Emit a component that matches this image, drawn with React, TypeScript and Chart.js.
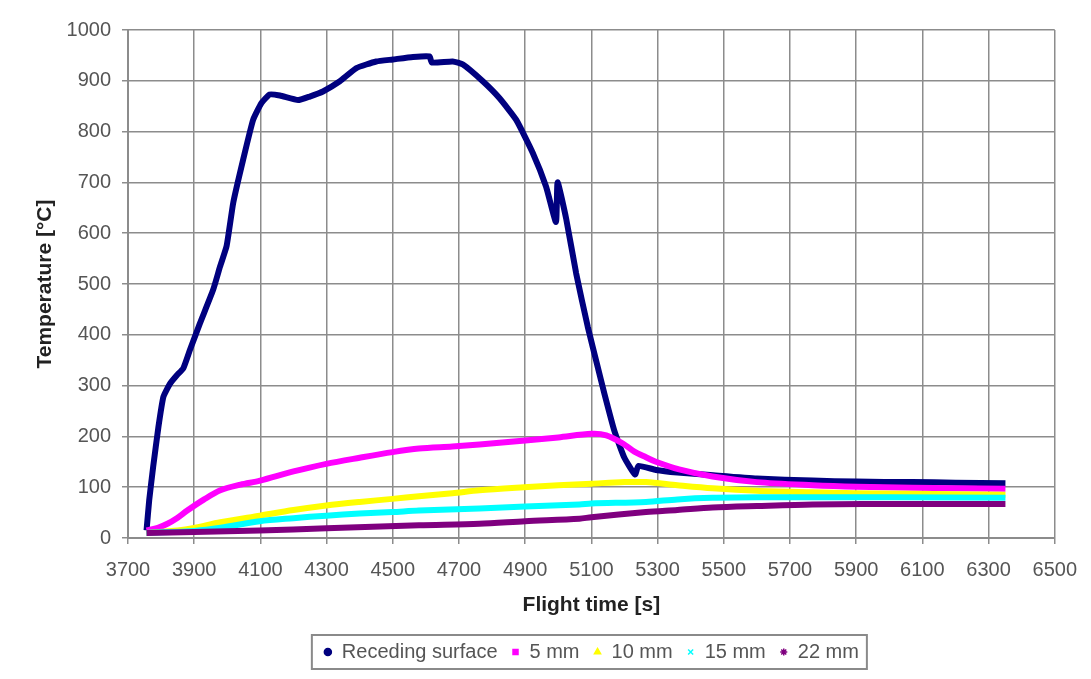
import React, { useEffect, useRef } from 'react';
import { Chart, registerables } from 'chart.js';

Chart.register(...registerables);

// Axis tick values
const xTickValues = [3700, 3900, 4100, 4300, 4500, 4700, 4900, 5100, 5300, 5500, 5700, 5900, 6100, 6300, 6500];
const yTickValues = [0, 100, 200, 300, 400, 500, 600, 700, 800, 900, 1000];

// Series names / colours / legend markers
const seriesNames = ['Receding surface', '5 mm', '10 mm', '15 mm', '22 mm'];
const seriesColors = ['#00007f', '#ff00ff', '#ffff00', '#00ffff', '#7f007f'];
const legendMarkers = ['circle', 'rect', 'triangle', 'crossRot', 'star'];

// [flight time s, temperature °C]
const recedingSurface: [number, number][] = [
  [3756, 15], [3764, 74], [3776, 140], [3792, 219], [3807, 278], [3827, 304], [3847, 320], [3867, 334],
  [3887, 370], [3917, 422], [3957, 488], [3978, 534], [3998, 575], [4018, 660], [4048, 745], [4078, 823],
  [4103, 856], [4128, 873], [4159, 871], [4214, 862], [4249, 869], [4289, 879], [4340, 899], [4390, 925],
  [4450, 938], [4500, 942], [4561, 947], [4611, 948], [4618, 936], [4681, 938], [4712, 932], [4772, 899],
  [4822, 866], [4873, 823], [4923, 758], [4963, 692], [4993, 622], [4998, 700], [5024, 628], [5054, 521],
  [5089, 416], [5119, 337], [5139, 285], [5169, 212], [5199, 159], [5232, 125], [5242, 142], [5295, 134],
  [5360, 129], [5459, 124], [5600, 117], [5768, 113], [5900, 111], [6070, 110], [6200, 109], [6351, 108],
];
const depth5mm: [number, number][] = [
  [3756, 15], [3790, 20], [3819, 28], [3850, 40], [3879, 54], [3930, 76], [3979, 94], [4040, 105],
  [4099, 113], [4200, 131], [4299, 146], [4400, 158], [4499, 169], [4579, 176], [4680, 180], [4762, 184],
  [4900, 192], [5000, 198], [5100, 205], [5145, 202], [5195, 186], [5230, 170], [5265, 159], [5295, 150],
  [5365, 135], [5466, 121], [5600, 110], [5768, 104], [5900, 101], [6070, 99], [6200, 98], [6351, 97],
];
const depth10mm: [number, number][] = [
  [3756, 10], [3850, 15], [3900, 20], [3979, 31], [4099, 44], [4200, 55], [4299, 64], [4400, 71],
  [4499, 77], [4579, 82], [4680, 88], [4762, 94], [4896, 100], [5000, 104], [5100, 107], [5200, 110],
  [5265, 110], [5360, 104], [5466, 98], [5600, 93], [5768, 90], [5900, 88], [6070, 87], [6200, 86], [6351, 85],
];
const depth15mm: [number, number][] = [
  [3756, 10], [3900, 14], [3980, 20], [4098, 33], [4200, 39], [4299, 44], [4400, 48], [4499, 51],
  [4579, 54], [4762, 58], [4900, 62], [5064, 66], [5100, 68], [5265, 71], [5360, 76], [5466, 79],
  [5600, 80], [5768, 80], [6000, 80], [6351, 79],
];
const depth22mm: [number, number][] = [
  [3756, 10], [3900, 12], [4098, 15], [4300, 19], [4579, 25], [4762, 28], [4900, 33], [5064, 38],
  [5100, 41], [5265, 51], [5360, 55], [5466, 60], [5600, 63], [5768, 66], [6070, 67], [6351, 67],
];

const seriesData = [recedingSurface, depth5mm, depth10mm, depth15mm, depth22mm];

const FONT = "'Liberation Sans', Arial, sans-serif";

const legendBorder = {
  id: 'legendBorder',
  afterDraw(chart: any) {
    const lg = chart.legend;
    if (!lg || !lg.legendHitBoxes || !lg.legendHitBoxes.length) return;
    const boxes = lg.legendHitBoxes;
    const left = Math.min(...boxes.map((b: any) => b.left)) - 12;
    const right = Math.max(...boxes.map((b: any) => b.left + b.width)) + 8;
    const top = Math.min(...boxes.map((b: any) => b.top)) - 7;
    const bottom = Math.max(...boxes.map((b: any) => b.top + b.height)) + 7;
    const ctx = chart.ctx;
    ctx.save();
    ctx.strokeStyle = '#8a8a8a';
    ctx.lineWidth = 2;
    ctx.strokeRect(left, top, right - left, bottom - top);
    ctx.restore();
  },
};

export default function App() {
  const canvasRef = useRef<HTMLCanvasElement | null>(null);

  useEffect(() => {
    document.body.style.margin = '0';
    const canvas = canvasRef.current;
    if (!canvas) return;
    const datasets = seriesNames.map((name, i) => ({
      label: name,
      data: seriesData[i].map(([x, y]) => ({ x, y })),
      borderColor: seriesColors[i],
      backgroundColor: seriesColors[i],
      borderWidth: 6,
      pointRadius: 0,
      pointHoverRadius: 0,
      pointStyle: legendMarkers[i],
      showLine: true,
      fill: false,
      tension: i === 0 ? 0.15 : 0.3,
      borderJoinStyle: 'round',
      borderCapStyle: 'butt',
      order: seriesNames.length - i,
    }));

    const chart = new Chart(canvas, {
      type: 'scatter',
      data: { datasets } as any,
      options: {
        animation: false,
        responsive: false,
        devicePixelRatio: 1,
        layout: { padding: { top: 30, right: 35, left: 0, bottom: 7 } },
        plugins: {
          tooltip: { enabled: false },
          legend: {
            position: 'bottom',
            fullSize: false,
            labels: {
              usePointStyle: true,
              boxWidth: 8,
              boxHeight: 5,
              padding: 14,
              color: '#555',
              font: { family: FONT, size: 20 },
              sort: (a: any, b: any) => a.datasetIndex - b.datasetIndex,
              generateLabels: (ch: any) =>
                ch.data.datasets.map((ds: any, i: number) => ({
                  text: ds.label,
                  fillStyle: seriesColors[i],
                  strokeStyle: seriesColors[i],
                  lineWidth: 1.5,
                  pointStyle: legendMarkers[i],
                  datasetIndex: i,
                  hidden: false,
                  fontColor: '#555',
                })),
            },
          },
        },
        scales: {
          x: {
            type: 'linear',
            min: xTickValues[0],
            max: xTickValues[xTickValues.length - 1],
            afterBuildTicks: (scale: any) => {
              scale.ticks = xTickValues.map((v) => ({ value: v }));
            },
            afterFit: (scale: any) => {
              scale.height = 90;
            },
            ticks: {
              autoSkip: false,
              maxRotation: 0,
              padding: 14,
              color: '#555',
              font: { family: FONT, size: 20 },
              callback: (v: any) => String(v),
            },
            grid: { color: '#8c8c8c', lineWidth: 1.5, tickLength: 6, drawTicks: true },
            border: { color: '#8c8c8c', width: 2 },
            title: {
              display: true,
              text: 'Flight time [s]',
              color: '#222',
              font: { family: FONT, size: 21, weight: 'bold' },
              padding: { top: 0, bottom: 10 },
            },
          },
          y: {
            type: 'linear',
            min: yTickValues[0],
            max: yTickValues[yTickValues.length - 1],
            afterBuildTicks: (scale: any) => {
              scale.ticks = yTickValues.map((v) => ({ value: v }));
            },
            afterFit: (scale: any) => {
              scale.width = 128;
            },
            ticks: {
              autoSkip: false,
              padding: 11,
              color: '#555',
              font: { family: FONT, size: 20 },
              callback: (v: any) => String(v),
            },
            grid: { color: '#8c8c8c', lineWidth: 1.5, tickLength: 6, drawTicks: true },
            border: { color: '#8c8c8c', width: 2 },
            title: {
              display: true,
              text: 'Temperature [°C]',
              color: '#222',
              font: { family: FONT, size: 21, weight: 'bold' },
              padding: { top: 33, bottom: 0 },
            },
          },
        },
      } as any,
      plugins: [legendBorder],
    });
    return () => chart.destroy();
  }, []);

  return (
    <div style={{ width: 1091, height: 679, background: '#fff' }}>
      <canvas ref={canvasRef} width={1091} height={679} style={{ display: 'block' }} />
    </div>
  );
}
